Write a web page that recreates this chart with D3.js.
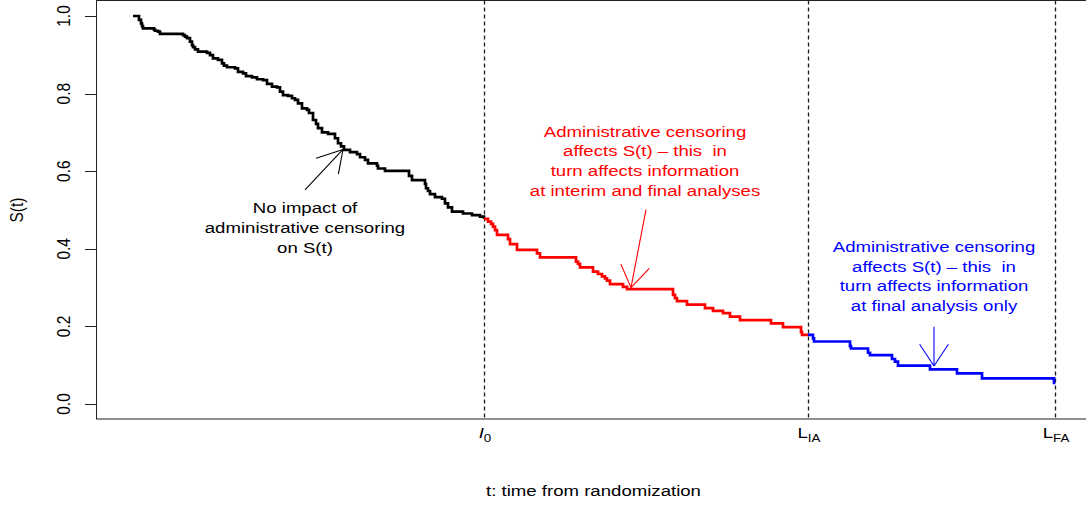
<!DOCTYPE html>
<html>
<head>
<meta charset="utf-8">
<script src="https://cdn.jsdelivr.net/npm/d3@7"></script>
<style>
  html, body { margin: 0; padding: 0; background: #fff; }
  svg { display: block; }
  text { white-space: pre; }
</style>
</head>
<body>
<div id="chart"></div>
<script>
// ---------------- data ----------------
// time from randomization (arbitrary units) and survival S(t) after each step
const blackTime = [0, 6, 8, 9, 10, 21, 22, 25, 27, 50, 52, 54, 57, 59, 60, 62, 65, 74, 77, 80, 85, 89, 91, 94, 102, 105, 110, 113, 119, 124, 130, 134, 139, 144, 147, 150, 155, 159, 162, 165, 169, 174, 176, 180, 183, 185, 189, 195, 202, 205, 208, 211, 217, 224, 227, 232, 235, 244, 245, 252, 276, 279, 292, 293, 295, 297, 302, 309, 312, 315, 319, 330, 339, 347, 351];
const blackSurv = [1.0, 0.990, 0.981, 0.974, 0.968, 0.965, 0.962, 0.960, 0.954, 0.951, 0.947, 0.943, 0.934, 0.925, 0.920, 0.914, 0.908, 0.905, 0.899, 0.891, 0.887, 0.878, 0.872, 0.868, 0.865, 0.856, 0.852, 0.845, 0.842, 0.837, 0.835, 0.825, 0.818, 0.816, 0.805, 0.796, 0.794, 0.788, 0.784, 0.775, 0.762, 0.758, 0.750, 0.732, 0.722, 0.711, 0.700, 0.696, 0.685, 0.672, 0.664, 0.655, 0.649, 0.644, 0.636, 0.629, 0.620, 0.614, 0.607, 0.601, 0.588, 0.577, 0.567, 0.556, 0.549, 0.541, 0.533, 0.529, 0.517, 0.507, 0.496, 0.491, 0.487, 0.483, 0.477];

const redTime = [351, 355, 358, 360, 362, 364, 375, 377, 384, 404, 407, 443, 445, 447, 460, 465, 469, 472, 474, 477, 490, 494, 540, 542, 544, 554, 572, 580, 590, 597, 607, 638, 650, 668, 669, 675];
const redSurv = [0.477, 0.470, 0.464, 0.457, 0.448, 0.436, 0.425, 0.412, 0.397, 0.388, 0.378, 0.367, 0.361, 0.352, 0.341, 0.335, 0.329, 0.324, 0.318, 0.309, 0.302, 0.296, 0.281, 0.273, 0.265, 0.256, 0.247, 0.240, 0.234, 0.225, 0.216, 0.208, 0.198, 0.186, 0.178, 0.178];

const blueTime = [675, 680, 681, 717, 718, 735, 737, 759, 762, 765, 797, 824, 849, 921];
const blueSurv = [0.178, 0.169, 0.161, 0.149, 0.143, 0.132, 0.126, 0.116, 0.109, 0.099, 0.089, 0.079, 0.066, 0.051];

// analysis landmarks
const markTimes = [351, 675, 922];
const markMain = ["I", "L", "L"];
const markSub = ["0", "IA", "FA"];

const yTicks = [0, 0.2, 0.4, 0.6, 0.8, 1.0];
const yTickLabels = ["0.0", "0.2", "0.4", "0.6", "0.8", "1.0"];

const xTitle = "t: time from randomization";
const yTitle = "S(t)";

// annotations: text lines, anchor (time, S of first baseline), arrow tail/tip
const noteBlack = ["No impact of", "administrative censoring", "on S(t)"];
const noteBlackAnchor = [172, 0.491];
const arrowBlack = [[172, 0.552], [210, 0.656]];

const noteRed = ["Administrative censoring", "affects S(t) \u2013 this  in", "turn affects information", "at interim and final analyses"];
const noteRedAnchor = [512, 0.689];
const arrowRed = [[513, 0.501], [498, 0.300]];

const noteBlue = ["Administrative censoring", "affects S(t) \u2013 this  in", "turn affects information", "at final analysis only"];
const noteBlueAnchor = [801, 0.392];
const arrowBlue = [[801, 0.199], [801, 0.098]];

// ---------------- layout ----------------
const W = 1086, H = 505;
const FONT = "'Liberation Sans', Arial, Helvetica, sans-serif";
const FS = 15.5;      // font size
const SX = 1.2;       // horizontal stretch of text
const ASX = 1.15;     // horizontal stretch for arrow heads
const plot = { left: 96, right: 1095, top: 0.5, bottom: 419.5 };
const lineGap = 19.7;

const svg = d3.select("#chart").append("svg")
  .attr("width", W).attr("height", H);

const x = d3.scaleLinear().domain([-37, 962]).range([plot.left, plot.right]);
const y = d3.scaleLinear().domain([-0.04, 1.04]).range([plot.bottom, plot.top]);

function addText(g, px, py, str, opt = {}) {
  const t = g.append("text")
    .attr("transform", `translate(${px},${py}) scale(${SX},1)` + (opt.rotate ? " rotate(-90)" : ""))
    .attr("text-anchor", opt.anchor || "middle")
    .style("font-family", FONT)
    .style("font-size", (opt.size || FS) + "px")
    .style("font-style", opt.italic ? "italic" : "normal")
    .attr("fill", opt.color || "#000")
    .text(str);
  return t;
}

// dashed landmark lines
svg.append("g").selectAll("line").data(markTimes).join("line")
  .attr("x1", d => Math.round(x(d)) + 0.5).attr("x2", d => Math.round(x(d)) + 0.5)
  .attr("y1", plot.top).attr("y2", plot.bottom)
  .attr("stroke", "#1a1a1a").attr("stroke-width", 1.3)
  .attr("stroke-dasharray", "4,3");

// box
svg.append("rect")
  .attr("x", plot.left + 0.5).attr("y", plot.top)
  .attr("width", plot.right - plot.left).attr("height", plot.bottom - plot.top - 0.5)
  .attr("fill", "none").attr("stroke", "#222").attr("stroke-width", 1);

// y axis ticks
const yAxisG = svg.append("g");
yAxisG.selectAll("line").data(yTicks).join("line")
  .attr("x1", plot.left - 11).attr("x2", plot.left + 0.5)
  .attr("y1", d => Math.round(y(d)) + 0.5).attr("y2", d => Math.round(y(d)) + 0.5)
  .attr("stroke", "#222").attr("stroke-width", 1);
yTicks.forEach((d, i) => addText(yAxisG, 70, y(d), yTickLabels[i], { rotate: true }));

// y title
addText(svg, 23, y(0.5), yTitle, { rotate: true });

// x landmark labels
markTimes.forEach((d, i) => {
  const g = svg.append("g");
  const t = addText(g, x(d) + 1, 438, "", { anchor: "middle" });
  t.append("tspan").text(markMain[i]).style("font-style", i === 0 ? "italic" : "normal");
  t.append("tspan").text(markSub[i]).attr("dy", 3.5).style("font-size", (FS * 0.72) + "px");
});

// x title
addText(svg, (plot.left + plot.right) / 2 - 2, 496, xTitle);

// survival curves
const line = d3.line().x(d => x(d[0])).y(d => y(d[1])).curve(d3.curveStepAfter);
const curves = [
  [blackTime, blackSurv, "#000000"],
  [redTime, redSurv, "#ff0000"],
  [blueTime, blueSurv, "#0000ff"]
];
curves.forEach(([t, s, c]) => {
  svg.append("path")
    .datum(t.map((v, i) => [v, s[i]]))
    .attr("d", line)
    .attr("fill", "none")
    .attr("stroke", c)
    .attr("stroke-width", 2.7)
    .attr("stroke-linejoin", "miter")
    .attr("stroke-linecap", "butt");
});

// annotations
function drawArrow(arrow, color) {
  const [t0, t1] = arrow;
  const p0 = [x(t0[0]), y(t0[1])], p1 = [x(t1[0]), y(t1[1])];
  const g = svg.append("g").attr("stroke", color).attr("stroke-width", 1.1).attr("fill", "none");
  g.append("line").attr("x1", p0[0]).attr("y1", p0[1]).attr("x2", p1[0]).attr("y2", p1[1]);
  let bx = (p0[0] - p1[0]) / ASX, by = p0[1] - p1[1];
  const len = Math.hypot(bx, by); bx /= len; by /= len;
  const L = 25, a = Math.PI / 6;
  [a, -a].forEach(ang => {
    const hx = (bx * Math.cos(ang) - by * Math.sin(ang)) * L * ASX;
    const hy = (bx * Math.sin(ang) + by * Math.cos(ang)) * L;
    g.append("line").attr("x1", p1[0]).attr("y1", p1[1]).attr("x2", p1[0] + hx).attr("y2", p1[1] + hy);
  });
}
function drawNote(lines, anchor, color) {
  const g = svg.append("g");
  lines.forEach((s, i) => addText(g, x(anchor[0]), y(anchor[1]) + i * lineGap, s, { color }));
}
drawNote(noteBlack, noteBlackAnchor, "#000");
drawArrow(arrowBlack, "#000");
drawNote(noteRed, noteRedAnchor, "#ff0000");
drawArrow(arrowRed, "#ff0000");
drawNote(noteBlue, noteBlueAnchor, "#0000ff");
drawArrow(arrowBlue, "#0000ff");
</script>
</body>
</html>
